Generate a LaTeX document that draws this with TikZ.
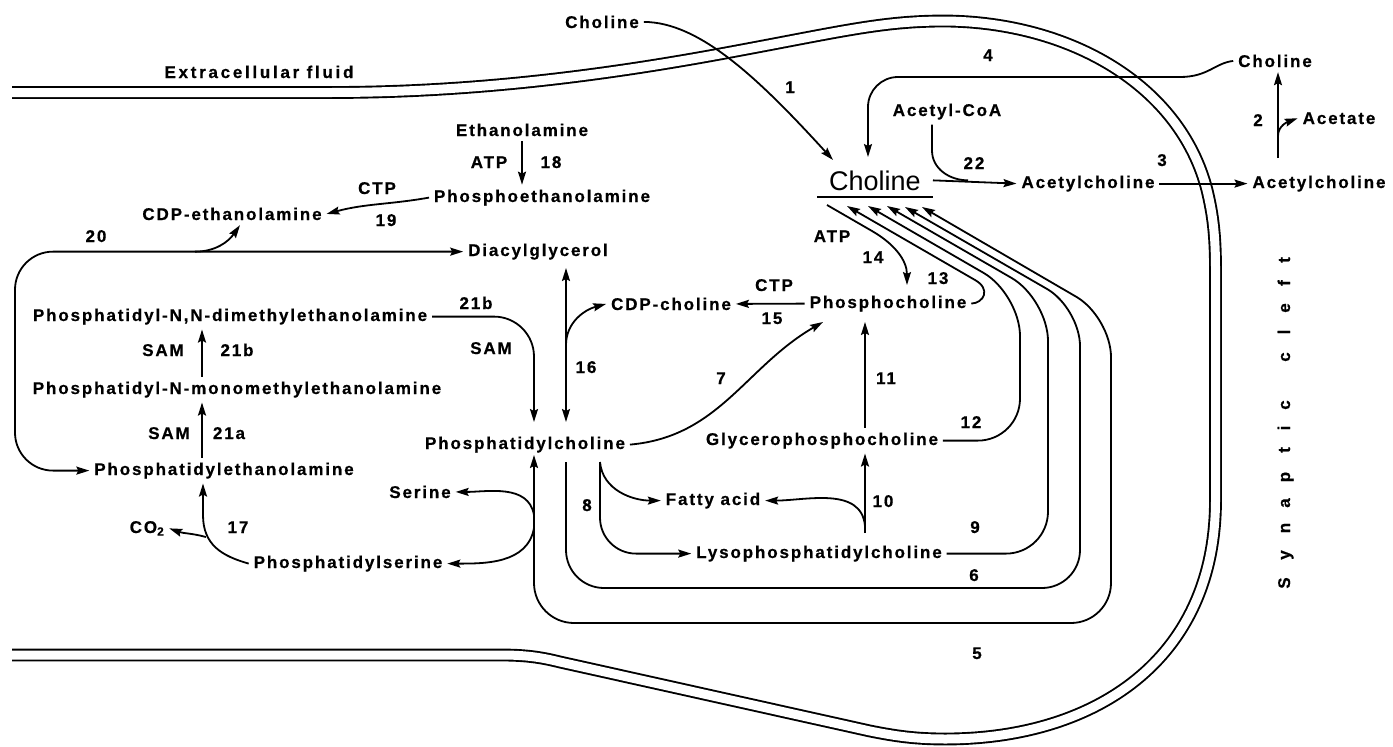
\documentclass[tikz,border=0pt]{standalone}
\usepackage{fontspec}
\setmainfont{Liberation Sans}
\newfontfamily\labfont{Liberation Sans}[LetterSpace=11,FakeBold=0.6]
\usepackage{tikz}
\usetikzlibrary{arrows.meta}

\begin{document}
\begin{tikzpicture}[x=1pt,y=-1pt,
  lab/.style={font=\labfont\bfseries\fontsize{17pt}{17pt}\selectfont,anchor=base,inner sep=2pt,outer sep=3pt},
  arr/.style={line width=1.8pt,-{Stealth[length=13pt,width=8pt,inset=2pt]}},
  arrs/.style={line width=1.8pt,{Stealth[length=13pt,width=8pt,inset=2pt]}-{Stealth[length=13pt,width=8pt,inset=2pt]}},
  link/.style={line width=1.8pt},
  membrane/.style={line width=1.9pt,double=white,double distance=9pt}]
\useasboundingbox (0,0) rectangle (1393,747);

\draw[membrane] (12,92.5) -- (330,92.5) .. controls (470,92.5) and (600,76) .. (720,54)
  .. controls (840,32) and (880,21) .. (945,21) .. controls (1070,22) and (1180,85) .. (1207,190)
  .. controls (1213,215) and (1215.5,235) .. (1215.5,270) -- (1215.5,500)
  .. controls (1215.5,660) and (1095,739) .. (945,739) .. controls (915,739) and (895,736) .. (870,731)
  -- (560,662) .. controls (540,657) and (525,655) .. (500,655) -- (12,655);

\node[lab] (ecf) at (259,78) {\addfontfeature{LetterSpace=16}Extracellular fluid};
\node[lab] (chtop) at (602,28) {Choline};
\node[lab] (chr) at (1275,67) {Choline};
\node[lab] (acet) at (1339,124) {Acetate};
\node[lab] (achout) at (1319,188) {Acetylcholine};
\node[lab] (achin) at (1088,188) {Acetylcholine};
\node[lab] (acoa) at (947,116) {Acetyl-CoA};
\node[font=\fontsize{27pt}{27pt}\selectfont,anchor=base,inner xsep=12pt,inner ysep=7pt] (chol) at (875,190) {Choline};
\node[lab] (eth) at (522,136) {Ethanolamine};
\node[lab] (atpa) at (489,168) {ATP};
\node[lab] (n18) at (551,168) {18};
\node[lab] (peth) at (542,202) {Phosphoethanolamine};
\node[lab] (ctpa) at (377,194) {CTP};
\node[lab] (n19) at (386,226) {19};
\node[lab] (cdpe) at (232,220) {CDP-ethanolamine};
\node[lab] (n20) at (96,242) {20};
\node[lab] (dag) at (538,256) {Diacylglycerol};
\node[lab] (n4) at (988,61) {4};
\node[lab] (n1) at (790,93) {1};
\node[lab] (n22) at (974,169) {22};
\node[lab] (n3) at (1162,166) {3};
\node[lab] (n2) at (1258,126) {2};
\node[lab] (atpb) at (832,242) {ATP};
\node[lab] (n14) at (873,263) {14};
\node[lab] (n13) at (938,284) {13};
\node[lab] (pcho) at (888,308) {Phosphocholine};
\node[lab] (ctpb) at (774,291) {CTP};
\node[lab] (n15) at (772,324) {15};
\node[lab] (cdpc) at (671,310) {CDP-choline};
\node[lab] (n21c) at (476,309) {21b};
\node[lab] (samc) at (491,354) {SAM};
\node[lab] (dmpe) at (230,321) {Phosphatidyl-N,N-dimethylethanolamine};
\node[lab] (samb) at (163,356) {SAM};
\node[lab] (n21b) at (237,356) {21b};
\node[lab] (mmpe) at (237,394) {Phosphatidyl-N-monomethylethanolamine};
\node[lab] (sama) at (169,439) {SAM};
\node[lab] (n21a) at (229,439) {21a};
\node[lab] (pe) at (224,475) {Phosphatidylethanolamine};
\node[lab] (n16) at (586,373) {16};
\node[lab] (n7) at (721,384) {7};
\node[lab] (n11) at (886,384) {11};
\node[lab] (pc) at (525,449) {Phosphatidylcholine};
\node[lab] (glyc) at (822,445) {Glycerophosphocholine};
\node[lab] (n12) at (971,428) {12};
\node[lab] (ser) at (420,498) {Serine};
\node[lab] (fat) at (713,505) {Fatty acid};
\node[lab] (n10) at (883,507) {10};
\node[lab] (n8) at (587,511) {8};
\node[lab] (co2) at (147,533) {CO\textsubscript{2}};
\node[lab] (n17) at (238,533) {17};
\node[lab] (n9) at (975,533) {9};
\node[lab] (lyso) at (819,558) {Lysophosphatidylcholine};
\node[lab] (ps) at (348,568) {Phosphatidylserine};
\node[lab] (n6) at (974,581) {6};
\node[lab] (n5) at (977,659) {5};
\foreach \ch/\yy [count=\k] in {S/583,y/555,n/528,a/503,p/477,t/450,i/428,c/405,c/357,l/332,e/308,f/283,t/260}
  \node[lab,rotate=90,outer sep=0pt] (cl\k) at (1290,\yy) {\ch};

\coordinate (t1) at (833,160);
\coordinate (t4) at (868,157);
\coordinate (j22) at (968,0 |- chol.east);
\coordinate (b2) at (1278,158);
\coordinate (j2) at (1278,136);
\coordinate (c20) at (15,360);
\coordinate (j20) at (195,0 |- dag.west);
\coordinate (t21) at (534,422);
\coordinate (q16) at (566,268);
\coordinate (p16) at (566,422);
\coordinate (j16) at (566,345);
\coordinate (t7) at (823,322);
\coordinate (s14) at (827,205);
\coordinate (t14) at (907,285);
\coordinate (t13) at (847,206);
\coordinate (t12) at (868,206);
\coordinate (c12) at (1020,294);
\coordinate (t9) at (887,206);
\coordinate (c9) at (1048,299);
\coordinate (t6) at (905,207);
\coordinate (s6) at (566,462);
\coordinate (c6a) at (1080,588);
\coordinate (c6b) at (1080,308);
\coordinate (t5) at (922,207);
\coordinate (t5a) at (534,455);
\coordinate (c5a) at (1111,623);
\coordinate (c5b) at (1111,317);
\coordinate (s8) at (600,462);
\coordinate (t11) at (865,322);
\coordinate (s10) at (865,533);
\coordinate (j10) at (865,526);
\coordinate (j17) at (203,515);
\coordinate (j17b) at (206,537);
\coordinate (j5a) at (534,515);
\coordinate (j5b) at (534,528);

\draw[line width=2pt] (chol.south west) -- (chol.south east);
\draw[arr] (chtop.east) .. controls (700,22) and (760,80) .. (t1);
\draw[arr] (chr.west) .. controls (1215,63) and (1208,77) .. (1180,77) [rounded corners=30pt] -| (t4);
\draw[arr] (chol.east) -- (achin.west);
\draw[link] ([xshift=-15pt]acoa.south) -- ++(0,26) to[out=-90,in=180] (j22);
\draw[arr] (achin.east) -- (achout.west);
\draw[arr] (b2) -- (b2 |- chr.south);
\draw[arr] (j2) to[out=90,in=200] (acet.west);
\draw[arr] (eth.south) -- (eth.south |- peth.north);
\draw[arr] (peth.west) to[out=190,in=15] (cdpe.east);
\draw[arrs,rounded corners=38pt] (dag.west) -| (c20) |- (pe.west);
\draw[arr] (j20) to[out=0,in=235] ([xshift=8pt]cdpe.south);
\draw[arr,rounded corners=40pt] (dmpe.east) -| (t21);
\draw[arr] ([xshift=-35pt]mmpe.north) -- ([xshift=-28pt]dmpe.south);
\draw[arr] ([xshift=-22pt]pe.north) -- ([xshift=-35pt]mmpe.south);
\draw[arrs] (q16) -- (p16);
\draw[arr] (j16) to[out=90,in=195] (cdpc.west);
\draw[arr] (pcho.west) -- (cdpc.east);
\draw[arr] (pc.east) to[out=5,in=210] (t7);
\draw[arr] (s14) -- (872,231) to[out=-30,in=90] (t14);
\draw[arr] (pcho.east) .. controls (984,303) and (991,289) .. (975,280) -- (t13);
\draw[arr,rounded corners=42pt] (glyc.east) -| (c12) [rounded corners=26pt] -- (t12);
\draw[arr,rounded corners=42pt] (lyso.east) -| (c9) [rounded corners=26pt] -- (t9);
\draw[arr,rounded corners=38pt] (s6) |- (c6a) -- (c6b) [rounded corners=26pt] -- (t6);
\draw[arrs,rounded corners=40pt] (t5a) |- (c5a) -- (c5b) [rounded corners=26pt] -- (t5);
\draw[arr,rounded corners=36pt] (s8) |- (lyso.west);
\draw[arr] (s8) to[out=-85,in=180] (fat.west);
\draw[arr] (glyc.north -| t11) -- (t11);
\draw[arr] (s10) -- (glyc.south -| s10);
\draw[arr] (j10) to[out=95,in=0] (fat.east);
\draw[arr] (ps.west) .. controls (222,556) and (203,545) .. (j17) -- (pe.south -| j17);
\draw[arr] (j17b) to[out=165,in=-20] (co2.east);
\draw[arr] (j5a) to[out=100,in=0] (ser.east);
\draw[arr] (j5b) to[out=-100,in=0] (ps.east);
\end{tikzpicture}
\end{document}
